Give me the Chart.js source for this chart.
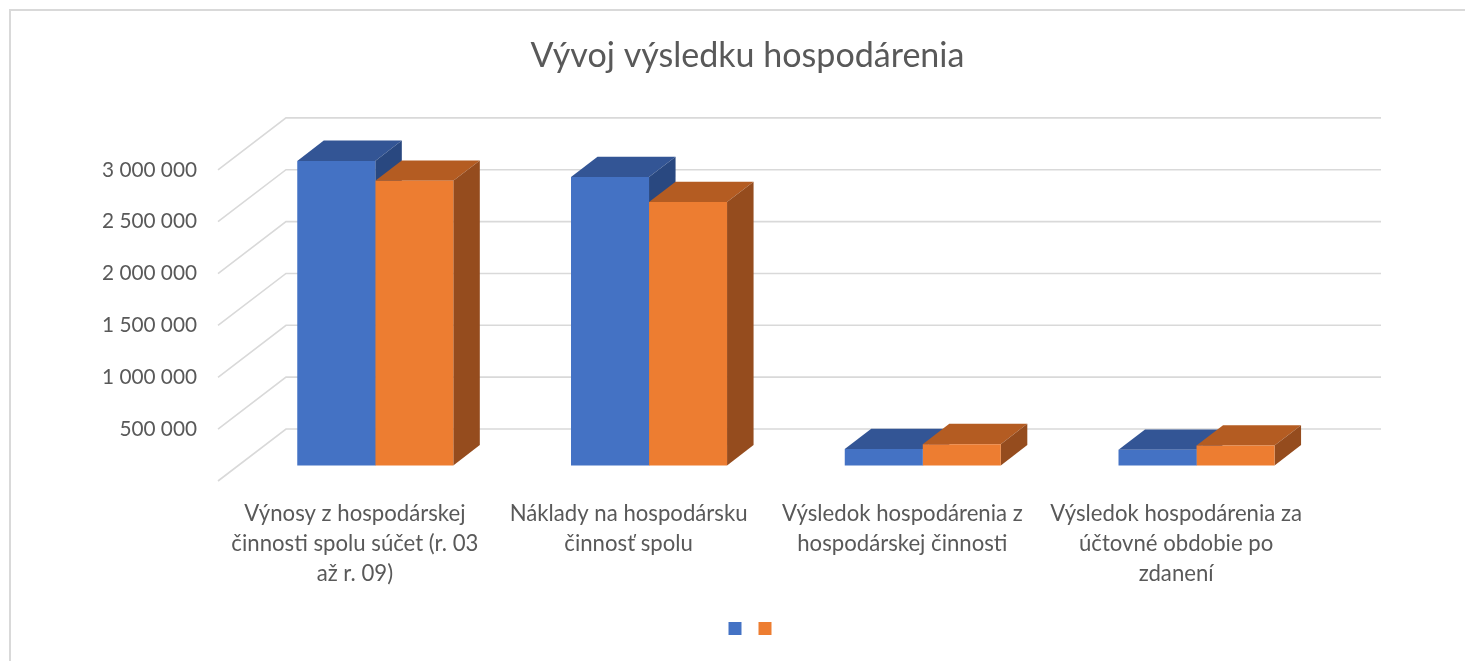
<!DOCTYPE html>
<html>
<head>
<meta charset="utf-8">
<script src="https://cdn.jsdelivr.net/npm/chart.js@4.4.1/dist/chart.umd.min.js"></script>
<style>
html,body{margin:0;padding:0;background:#ffffff;}
#wrap{width:1465px;height:661px;position:relative;}
</style>
</head>
<body>
<div id="wrap"><canvas id="c" width="1465" height="661"></canvas></div>
<script>
// ---- data ----
const categories = [
  ["Výnosy z hospodárskej", "činnosti spolu súčet (r. 03", "až r. 09)"],
  ["Náklady na hospodársku", "činnosť spolu"],
  ["Výsledok hospodárenia z", "hospodárskej činnosti"],
  ["Výsledok hospodárenia za", "účtovné obdobie po", "zdanení"]
];
const seriesA = [2936000, 2780000, 158000, 150000];
const seriesB = [2745000, 2540000, 205000, 192000];
const yTickValues = [0, 500000, 1000000, 1500000, 2000000, 2500000, 3000000];
const chartTitle = "Vývoj výsledku hospodárenia";

// ---- style ----
const FONT = "Lato";
const TEXT = "#595959";
const GRID = "#d9d9d9";
const WALL_DX = 68, WALL_DY = -52;   // full floor depth (oblique)
const BAR_FRONT = 0.30;              // bar front plane as fraction of depth
const BAR_DEPTH = 0.39;              // bar depth as fraction of depth

function fitSize(text, target, weight) {
  const c = document.createElement('canvas').getContext('2d');
  c.font = (weight || 'normal') + ' 100px ' + FONT;
  return 100 * target / c.measureText(text).width;
}
const titleSize = fitSize(chartTitle, 434);
const tickSize = fitSize("3 000 000", 95);
const catSize = fitSize("Náklady na hospodársku", 238);

function fmt(v) {
  if (v === 0) return '';
  return String(v).replace(/\B(?=(\d{3})+(?!\d))/g, ' ');
}

const depthPlugin = {
  id: 'depth3d',
  beforeDraw(chart) {
    const ctx = chart.ctx;
    ctx.save();
    ctx.strokeStyle = GRID;
    ctx.lineWidth = 2;
    ctx.beginPath();
    ctx.moveTo(10, 670); ctx.lineTo(10, 10); ctx.lineTo(1475, 10);
    ctx.stroke();
    ctx.restore();
  },
  afterLayout(chart) {
    const lg = chart.legend;
    if (lg) { lg.left += 96; lg.right += 96; }
    const tb = chart.titleBlock;
    if (tb) { tb.left += 91; tb.right += 91; }
  },
  beforeDatasetsDraw(chart) {
    const ctx = chart.ctx, a = chart.chartArea, ys = chart.scales.y;
    ctx.save();
    ctx.strokeStyle = GRID;
    ctx.lineWidth = 1.6;
    yTickValues.forEach(v => {
      const py = ys.getPixelForValue(v);
      ctx.beginPath();
      ctx.moveTo(a.left, py);
      ctx.lineTo(a.left + WALL_DX, py + WALL_DY);
      ctx.lineTo(a.right + WALL_DX, py + WALL_DY);
      ctx.stroke();
    });
    ctx.restore();
    ctx.save();
    ctx.translate(WALL_DX * BAR_FRONT, WALL_DY * BAR_FRONT);
    const dx = WALL_DX * BAR_DEPTH, dy = WALL_DY * BAR_DEPTH;
    chart.data.datasets.forEach((ds, i) => {
      const meta = chart.getDatasetMeta(i);
      meta.data.forEach(bar => {
        const p = bar.getProps(['x', 'y', 'base', 'width'], true);
        const l = p.x - p.width / 2, r = p.x + p.width / 2, t = p.y, b = p.base;
        ctx.fillStyle = ds.topColor;
        ctx.beginPath();
        ctx.moveTo(l, t); ctx.lineTo(l + dx, t + dy); ctx.lineTo(r + dx, t + dy); ctx.lineTo(r, t);
        ctx.closePath(); ctx.fill();
        ctx.fillStyle = ds.sideColor;
        ctx.beginPath();
        ctx.moveTo(r, t); ctx.lineTo(r + dx, t + dy); ctx.lineTo(r + dx, b + dy); ctx.lineTo(r, b);
        ctx.closePath(); ctx.fill();
      });
    });
  },
  afterDatasetsDraw(chart) {
    chart.ctx.restore();
  }
};

new Chart(document.getElementById('c'), {
  type: 'bar',
  data: {
    labels: categories,
    datasets: [
      { label: '', data: seriesA, backgroundColor: '#4472C4', topColor: '#335595', sideColor: '#294880', borderWidth: 0, clip: false },
      { label: '', data: seriesB, backgroundColor: '#ED7D31', topColor: '#B45C22', sideColor: '#954C1E', borderWidth: 0, clip: false }
    ]
  },
  plugins: [depthPlugin],
  options: {
    responsive: false,
    animation: false,
    layout: { padding: { left: 0, right: 152, top: 0, bottom: 16 } },
    datasets: { bar: { categoryPercentage: 0.57, barPercentage: 1.0 } },
    plugins: {
      tooltip: { enabled: false },
      title: {
        display: true,
        text: chartTitle,
        color: TEXT,
        font: { family: FONT, size: titleSize, weight: 'normal' },
        padding: { top: 36, bottom: 93 }
      },
      legend: {
        display: true,
        position: 'bottom',
        labels: {
          boxWidth: 13, boxHeight: 13, padding: 12,
          font: { family: FONT, size: 10 },
          generateLabels(chart) {
            return chart.data.datasets.map((ds, i) => ({
              text: '', fillStyle: ds.backgroundColor, strokeStyle: ds.backgroundColor,
              lineWidth: 0, hidden: false, datasetIndex: i
            }));
          }
        }
      }
    },
    scales: {
      x: {
        grid: { display: false, drawTicks: false },
        border: { display: false },
        ticks: {
          color: TEXT, maxRotation: 0, minRotation: 0, autoSkip: false, padding: 18,
          font: { family: FONT, size: catSize, lineHeight: 1.35 }
        },
        afterFit(s) { s.height = 129; }
      },
      y: {
        min: 0, max: 3000000,
        grid: { display: false, drawTicks: false },
        border: { display: false },
        ticks: {
          stepSize: 500000, color: TEXT, padding: 21,
          font: { family: FONT, size: tickSize },
          callback: v => fmt(v)
        },
        afterFit(s) { s.width = 218; }
      }
    }
  }
});
</script>
</body>
</html>
